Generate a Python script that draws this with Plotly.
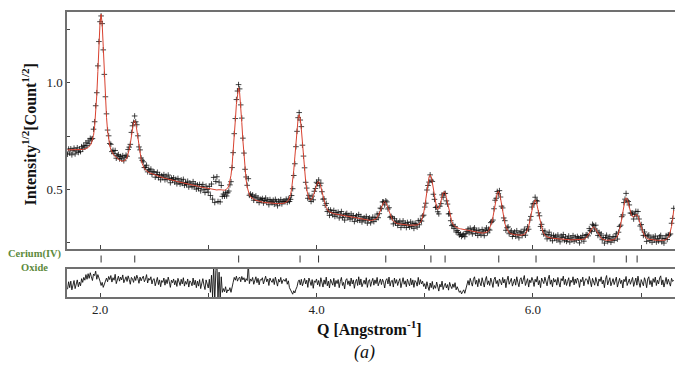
import plotly.graph_objects as go

# ---------------- data ----------------
Q_START = 1.70          # first Q sample [1/Angstrom]
Q_STEP = 0.01           # sampling step

# calculated (fitted) profile, sqrt-intensity x 1000, one value per Q step
calc_milli = [
    685, 685, 685, 684, 684, 684, 685, 684, 685, 685,
    685, 685, 686, 686, 687, 688, 689, 691, 693, 697,
    701, 706, 715, 730, 753, 793, 854, 941, 1052, 1174,
    1280, 1321, 1275, 1168, 1042, 929, 838, 774, 730, 704,
    687, 674, 666, 659, 654, 648, 644, 641, 637, 635,
    633, 632, 633, 635, 640, 650, 664, 687, 715, 749,
    785, 812, 823, 809, 778, 737, 700, 666, 640, 620,
    607, 598, 591, 586, 582, 579, 577, 575, 573, 571,
    568, 566, 564, 562, 560, 559, 557, 556, 554, 553,
    552, 551, 549, 548, 547, 545, 544, 543, 541, 540,
    539, 537, 536, 535, 533, 532, 531, 530, 529, 527,
    526, 525, 524, 523, 522, 521, 520, 518, 517, 516,
    515, 514, 512, 511, 510, 509, 507, 506, 505, 504,
    503, 502, 501, 500, 499, 498, 498, 497, 497, 498,
    499, 499, 498, 497, 496, 496, 498, 501, 506, 517,
    536, 566, 610, 670, 743, 823, 899, 955, 976, 952,
    892, 813, 730, 653, 591, 544, 511, 488, 474, 465,
    461, 456, 453, 451, 449, 447, 445, 444, 443, 442,
    440, 439, 438, 437, 437, 437, 436, 436, 436, 435,
    435, 435, 434, 434, 433, 433, 433, 434, 434, 434,
    435, 437, 439, 443, 448, 458, 475, 501, 539, 590,
    652, 720, 784, 832, 850, 831, 782, 716, 648, 586,
    536, 497, 472, 456, 450, 451, 457, 468, 484, 502,
    520, 533, 536, 528, 512, 489, 467, 445, 429, 415,
    405, 398, 394, 391, 389, 387, 386, 385, 384, 383,
    382, 381, 379, 378, 377, 376, 375, 374, 373, 372,
    371, 370, 369, 368, 367, 366, 365, 364, 363, 362,
    361, 360, 359, 358, 358, 357, 356, 356, 355, 355,
    354, 354, 355, 356, 357, 361, 366, 376, 385, 399,
    414, 429, 439, 443, 438, 427, 411, 395, 379, 367,
    357, 351, 346, 343, 340, 339, 338, 337, 336, 335,
    335, 334, 334, 333, 333, 332, 332, 332, 332, 331,
    331, 332, 332, 333, 335, 339, 344, 354, 369, 390,
    419, 454, 493, 530, 558, 568, 558, 532, 497, 461,
    432, 414, 406, 411, 425, 446, 468, 484, 489, 482,
    462, 436, 408, 384, 363, 348, 337, 330, 325, 322,
    319, 318, 316, 315, 314, 313, 312, 311, 310, 309,
    306, 304, 303, 302, 301, 300, 299, 298, 297, 296,
    295, 295, 295, 295, 295, 296, 297, 298, 301, 306,
    317, 328, 346, 370, 398, 430, 460, 482, 491, 481,
    459, 427, 395, 366, 341, 323, 311, 302, 296, 293,
    291, 289, 288, 287, 287, 286, 286, 285, 285, 285,
    286, 287, 289, 293, 300, 310, 326, 346, 372, 399,
    425, 445, 451, 444, 424, 396, 368, 341, 320, 303,
    292, 285, 280, 277, 275, 274, 273, 272, 271, 270,
    270, 269, 269, 268, 268, 267, 267, 267, 266, 266,
    265, 264, 264, 264, 264, 263, 263, 263, 263, 263,
    263, 263, 263, 263, 263, 264, 265, 266, 268, 272,
    278, 286, 295, 304, 314, 321, 324, 321, 314, 304,
    294, 285, 277, 271, 267, 264, 263, 262, 261, 261,
    261, 261, 261, 262, 263, 265, 268, 273, 280, 293,
    311, 334, 363, 396, 426, 450, 460, 455, 436, 414,
    393, 378, 371, 372, 377, 381, 382, 374, 360, 342,
    324, 307, 293, 283, 276, 271, 268, 266, 265, 264,
    264, 263, 262, 262, 261, 261, 261, 261, 261, 260,
    260, 261, 262, 265, 269, 275, 285, 301, 326, 359,
    402,
]

# difference curve (observed - calculated), x 1000, one value per Q step
diff_milli = [
    -20, 4, -15, 6, -22, -3, 8, -18, -5, 10,
    -12, 3, -9, 14, 2, 18, 9, 27, 12, 30,
    15, 33, 20, 8, 29, 24, 38, 12, 27, 19,
    6, -8, 2, -14, -3, 5, 16, 4, 21, 11,
    24, 3, 17, 9, 28, -2, 14, 22, 6, 19,
    10, 26, 1, 15, 20, 5, 23, 11, -4, 18,
    13, 2, 21, 8, 25, 14, -1, 19, 7, 16,
    22, 4, 12, 27, 0, 15, 9, 20, -3, 11,
    14, -9, 6, 18, -5, 10, -12, 8, 2, 16,
    -7, 11, -2, 19, 4, -14, 9, 1, 13, -6,
    8, -11, 15, 0, -8, 12, -3, 17, -10, 5,
    -4, 13, -13, 7, 2, -9, 16, -6, 9, -15,
    6, -10, 11, -18, 3, 14, -7, -21, 10, -4,
    -16, 12, -30, 25, -45, 58, -60, 40, 62, -55,
    35, -58, 20, -30, -18, -28, -12, -32, -22, -25,
    -15, -30, -8, 2, 18, 9, 22, 6, 15, 19,
    4, 21, 10, 17, 3, 14, 8, 62, -2, 13,
    6, 18, -4, 12, 20, 1, 15, -6, 11, 9,
    17, -3, 10, 22, 4, 13, -8, 16, 7, 2,
    14, -5, 19, 8, -10, 12, 3, 18, -2, 9,
    11, 5, 15, -4, 7, -15, -22, -30, -36, -25,
    -32, -20, -12, 4, 10, -6, 12, -9, 8, 15,
    -3, 9, -14, 16, 5, -8, 11, -17, 7, 2,
    13, -6, 8, -11, 17, 0, -13, 10, -4, 19,
    -9, 6, -16, 12, 3, -7, 15, -12, 8, -2,
    11, -15, 5, 18, -8, 2, -19, 9, 14, -5,
    7, -10, 16, -3, 10, -17, 4, 12, -8, 20,
    -6, 13, -12, 3, 9, -4, 17, -14, 6, 11,
    -11, 4, 15, -7, 10, -2, 18, -9, 1, 13,
    -5, 12, 2, -16, 8, 14, -3, 19, -10, 6,
    9, -13, 16, -1, 11, -8, 5, 14, -15, 3,
    17, -4, 7, -12, 12, 1, -9, 15, -6, 10,
    -14, 8, 3, -10, 18, -5, 11, -3, 6, -11,
    -2, -19, 4, -12, -24, 0, -15, 5, -20, -8,
    -17, 3, -11, -26, -4, -13, 6, -21, -9, -1,
    -16, -5, -23, 2, -10, -18, -3, -14, 1, -22,
    -12, -20, -30, -25, -35, -28, -22, -33, -18, -6,
    8, -7, 15, 2, -10, 12, 20, -4, 9, -12,
    14, 1, -9, 17, 6, -13, 10, 21, -5, 7,
    -8, 16, 3, -14, 11, 19, -2, 8, -11, 13,
    5, -6, 18, 0, 12, -15, 9, 22, -4, 6,
    15, -10, 4, 13, -7, 20, 2, -12, 11, 17,
    -3, 9, 24, -8, 6, 14, -13, 10, 1, 18,
    7, -11, 12, 3, 21, -6, 8, -15, 16, 4,
    -2, 19, 6, -9, 13, 25, -4, 10, -12, 15,
    3, 11, -7, 18, 0, -13, 14, 7, 22, -5,
    12, -8, 5, 17, -11, 9, 2, 20, -6, 13,
    -1, 16, 8, -14, 11, 4, 19, -9, 7, 14,
    10, -4, 21, 3, -12, 15, 6, -7, 18, 1,
    -10, 13, 5, 20, -3, 9, -15, 12, 24, -6,
    8, 17, -9, 2, 14, -5, 11, 19, -13, 6,
    15, -2, 9, -16, 12, 4, 21, -8, 7, 13,
    -4, 10, 18, -11, 5, 16, -7, 22, 1, -14,
    11, 3, -9, 17, 6, -15, 13, 20, -5, 8,
    -12, 14, 2, 19, -8, 9, -3, 16, 23, -6,
    10, -13, 7, 18, -4, 12, 1, -10, 15, 5,
    9,
]

# Cerium(IV) oxide reflection positions (tick row)
reflections = [2.010, 2.321, 3.281, 3.848, 4.019, 4.640, 5.057, 5.188,
               5.684, 6.028, 6.564, 6.862, 6.962]

# ---------------- build series ----------------
n = len(calc_milli)
assert len(diff_milli) == n
q = [round(Q_START + i * Q_STEP, 2) for i in range(n)]
calc = [v / 1000 for v in calc_milli]
diff = [v / 1000 for v in diff_milli]
obs = [c + d for c, d in zip(calc, diff)]

SERIF = "Liberation Serif, Times New Roman, serif"
AXIS_COL = "#707070"
X_RANGE = [1.695, 7.312]

fig = go.Figure()
fig.add_trace(go.Scatter(
    x=q, y=obs, mode="markers", xaxis="x", yaxis="y",
    marker=dict(symbol="cross-thin", size=4,
                line=dict(width=1, color="rgba(10,10,10,0.75)")),
    hoverinfo="skip"))
fig.add_trace(go.Scatter(
    x=q, y=calc, mode="lines", xaxis="x", yaxis="y",
    line=dict(color="#d9412f", width=1)))
fig.add_trace(go.Scatter(
    x=reflections, y=[0.5] * len(reflections), mode="markers",
    xaxis="x", yaxis="y3",
    marker=dict(symbol="line-ns", size=5, line=dict(width=1, color="#333333"))))
fig.add_trace(go.Scatter(
    x=q, y=diff, mode="lines", xaxis="x2", yaxis="y2",
    line=dict(color="#111111", width=0.9)))

minor_x = dict(ticks="inside", ticklen=4, tickcolor="#444", tickwidth=1,
               tick0=0, dtick=1, showgrid=False)

fig.update_layout(
    width=675, height=367,
    margin=dict(l=67, r=0, t=12, b=70),
    paper_bgcolor="white", plot_bgcolor="white",
    showlegend=False,
    xaxis=dict(domain=[0, 1], anchor="y", range=X_RANGE,
               showline=True, linecolor=AXIS_COL, linewidth=1.5, mirror=True,
               ticks="inside", ticklen=4, tickcolor="#444", tickwidth=1,
               tick0=0, dtick=1, showticklabels=False,
               showgrid=False, zeroline=False),
    yaxis=dict(domain=[0.1684, 1], range=[0.2203, 1.3315],
               showline=True, linecolor=AXIS_COL, linewidth=1.5,
               ticks="inside", ticklen=3, tickcolor="#444", tickwidth=1,
               tick0=0, dtick=0.5, tickformat=".1f",
               minor=dict(ticks="inside", ticklen=3, tickcolor="#444",
                          tickwidth=1, tick0=0, dtick=0.25, showgrid=False),
               tickfont=dict(family=SERIF, size=13, color="#222"),
               showgrid=False, zeroline=False),
    xaxis2=dict(domain=[0, 1], anchor="y2", range=X_RANGE, matches="x",
                showline=True, linecolor=AXIS_COL, linewidth=1.5, mirror=True,
                ticks="inside", ticklen=4, tickcolor="#444", tickwidth=1,
                tick0=0, dtick=2, tickformat=".1f", minor=minor_x,
                tickfont=dict(family=SERIF, size=13, color="#222"),
                showgrid=False, zeroline=False),
    yaxis2=dict(domain=[0, 0.0982], range=[-0.045, 0.045],
                showline=True, linecolor=AXIS_COL, linewidth=1.5,
                ticks="", showticklabels=False, showgrid=False, zeroline=False),
    yaxis3=dict(domain=[0.0982, 0.1684], range=[0, 1], visible=False),
    annotations=[
        dict(text="<b>Q [Angstrom<sup>-1</sup>]</b>", xref="paper", yref="paper",
             x=0.498, y=-0.112, showarrow=False, xanchor="center", yanchor="middle",
             font=dict(family=SERIF, size=16, color="#111")),
        dict(text="<i>(a)</i>", xref="paper", yref="paper",
             x=0.4885, y=-0.196, showarrow=False, xanchor="center", yanchor="middle",
             font=dict(family=SERIF, size=18, color="#111")),
        dict(text="<b>Intensity<sup>1/2</sup>[Count<sup>1/2</sup>]</b>",
             xref="paper", yref="paper", x=-0.061, y=0.57, textangle=-90,
             showarrow=False, xanchor="center", yanchor="middle",
             font=dict(family=SERIF, size=16, color="#111")),
        dict(text="<b>Cerium(IV)<br>Oxide</b>", xref="paper", yref="paper",
             x=-0.0526, y=0.128, showarrow=False, xanchor="center", yanchor="middle",
             font=dict(family=SERIF, size=10.5, color="#5d8a3c")),
    ],
)

fig.write_html("out.html")
